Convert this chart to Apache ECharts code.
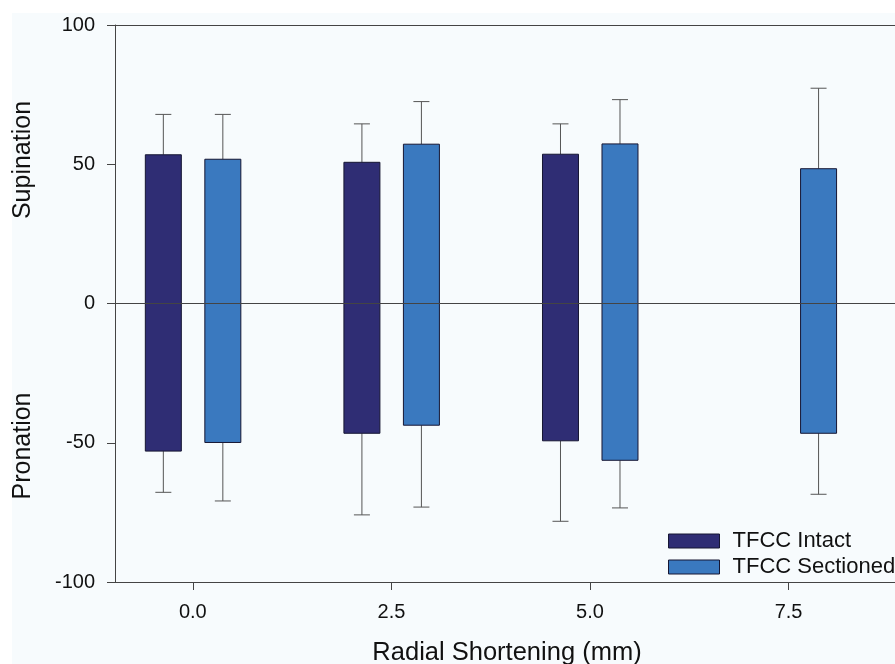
<!DOCTYPE html>
<html>
<head>
<meta charset="utf-8">
<script src="https://cdn.jsdelivr.net/npm/echarts@6/dist/echarts.min.js"></script>
<style>
  html, body { margin: 0; padding: 0; background: #ffffff; }
  #main { width: 895px; height: 664px; }
</style>
</head>
<body>
<div id="main"></div>
<script>
// radial shortening (mm)
var shortening = [0, 2.5, 5.0, 7.5];
var tickLabels = ['0.0', '2.5', '5.0', '7.5'];

// TFCC intact: supination / pronation means and SD
var intactSup = [53.4, 50.7, 53.6, null];
var intactSupSd = [14.5, 13.8, 10.9, null];
var intactPro = [-53.0, -46.6, -49.3, null];
var intactProSd = [14.8, 29.3, 28.9, null];

// TFCC sectioned
var sectSup = [51.8, 57.2, 57.3, 48.4];
var sectSupSd = [16.1, 15.3, 15.9, 28.9];
var sectPro = [-49.9, -43.7, -56.3, -46.6];
var sectProSd = [21.0, 29.4, 17.1, 21.9];

var yTicks = [-100, -50, 0, 50, 100];

var font = "'Liberation Sans', Arial, sans-serif";
var darkBlue = '#2f2d74';
var lightBlue = '#3a79bf';

function buildData(sup, supSd, pro, proSd) {
  var out = [];
  for (var i = 0; i < shortening.length; i++) {
    if (sup[i] == null) continue;
    out.push([shortening[i], sup[i], supSd[i], pro[i], proSd[i]]);
  }
  return out;
}

function makeRender(offset, fill) {
  return function (params, api) {
    var x = api.value(0);
    var top = api.coord([x, api.value(1)]);
    var bot = api.coord([x, api.value(3)]);
    var eTop = api.coord([x, api.value(1) + api.value(2)]);
    var eBot = api.coord([x, api.value(3) - api.value(4)]);
    var cx = top[0] + offset;
    var hw = 18, cap = 8;
    var err = { stroke: '#555555', lineWidth: 1 };
    return {
      type: 'group',
      children: [
        { type: 'line', shape: { x1: cx, y1: eTop[1], x2: cx, y2: top[1] }, style: err },
        { type: 'line', shape: { x1: cx - cap, y1: eTop[1], x2: cx + cap, y2: eTop[1] }, style: err },
        { type: 'line', shape: { x1: cx, y1: bot[1], x2: cx, y2: eBot[1] }, style: err },
        { type: 'line', shape: { x1: cx - cap, y1: eBot[1], x2: cx + cap, y2: eBot[1] }, style: err },
        {
          type: 'rect',
          shape: { x: cx - hw, y: top[1], width: hw * 2, height: bot[1] - top[1] },
          style: { fill: fill, stroke: '#161633', lineWidth: 1 }
        }
      ]
    };
  };
}

var chart = echarts.init(document.getElementById('main'));

var axisMin = -0.98, axisMax = 8.84;

var option = {
  backgroundColor: '#ffffff',
  animation: false,
  textStyle: { fontFamily: font },
  graphic: [
    { type: 'rect', z: -10, left: 12, top: 13, shape: { width: 900, height: 660 }, style: { fill: '#f7fbfd' } },
    { type: 'text', x: 23, y: 160, rotation: Math.PI / 2,
      style: { text: 'Supination', font: '25px ' + font, fill: '#111', align: 'center', verticalAlign: 'middle' } },
    { type: 'text', x: 23, y: 446, rotation: Math.PI / 2,
      style: { text: 'Pronation', font: '25px ' + font, fill: '#111', align: 'center', verticalAlign: 'middle' } },
    { type: 'text', x: 507, y: 653,
      style: { text: 'Radial Shortening (mm)', font: '25.5px ' + font, fill: '#111', align: 'center', verticalAlign: 'middle' } }
  ],
  grid: {
    left: 115,
    top: 25,
    right: 0,
    bottom: 82,
    show: true,
    backgroundColor: '#f7fbfd',
    borderWidth: 0
  },
  legend: {
    orient: 'vertical',
    left: 668,
    top: 530,
    padding: 0,
    itemWidth: 51,
    itemHeight: 14,
    itemGap: 4,
    icon: 'rect',
    textStyle: { fontSize: 22, color: '#111', fontFamily: font, padding: [0, 0, 0, 8] },
    data: [
      { name: 'TFCC Intact', itemStyle: { color: darkBlue, borderColor: '#161633', borderWidth: 1 } },
      { name: 'TFCC Sectioned', itemStyle: { color: lightBlue, borderColor: '#161633', borderWidth: 1 } }
    ]
  },
  xAxis: [
    {
      type: 'value',
      min: axisMin,
      max: axisMax,
      splitLine: { show: false },
      axisLine: { show: true, onZero: false, lineStyle: { color: '#444', width: 1 } },
      axisTick: { show: true, length: 8, customValues: shortening, lineStyle: { color: '#444' } },
      axisLabel: {
        customValues: shortening,
        margin: 20,
        fontSize: 20,
        color: '#111',
        formatter: function (v) { return tickLabels[shortening.indexOf(v)]; }
      }
    },
    {
      type: 'value',
      position: 'top',
      min: axisMin,
      max: axisMax,
      splitLine: { show: false },
      axisLine: { show: true, onZero: false, lineStyle: { color: '#444', width: 1 } },
      axisTick: { show: false },
      axisLabel: { show: false }
    }
  ],
  yAxis: {
    type: 'value',
    min: yTicks[0],
    max: yTicks[yTicks.length - 1],
    interval: 50,
    splitLine: { show: false },
    axisLine: { show: true, onZero: false, lineStyle: { color: '#444', width: 1 } },
    axisTick: { show: true, length: 8, lineStyle: { color: '#444' } },
    axisLabel: { margin: 20, fontSize: 20, color: '#111' }
  },
  series: [
    {
      name: 'TFCC Intact',
      type: 'custom',
      itemStyle: { color: darkBlue },
      renderItem: makeRender(-29.5, darkBlue),
      data: buildData(intactSup, intactSupSd, intactPro, intactProSd)
    },
    {
      name: 'TFCC Sectioned',
      type: 'custom',
      itemStyle: { color: lightBlue },
      renderItem: makeRender(30, lightBlue),
      data: buildData(sectSup, sectSupSd, sectPro, sectProSd),
      markLine: {
        silent: true,
        symbol: 'none',
        label: { show: false },
        lineStyle: { color: '#444', width: 1, type: 'solid' },
        data: [{ yAxis: 0 }]
      }
    }
  ]
};

chart.setOption(option);
</script>
</body>
</html>
